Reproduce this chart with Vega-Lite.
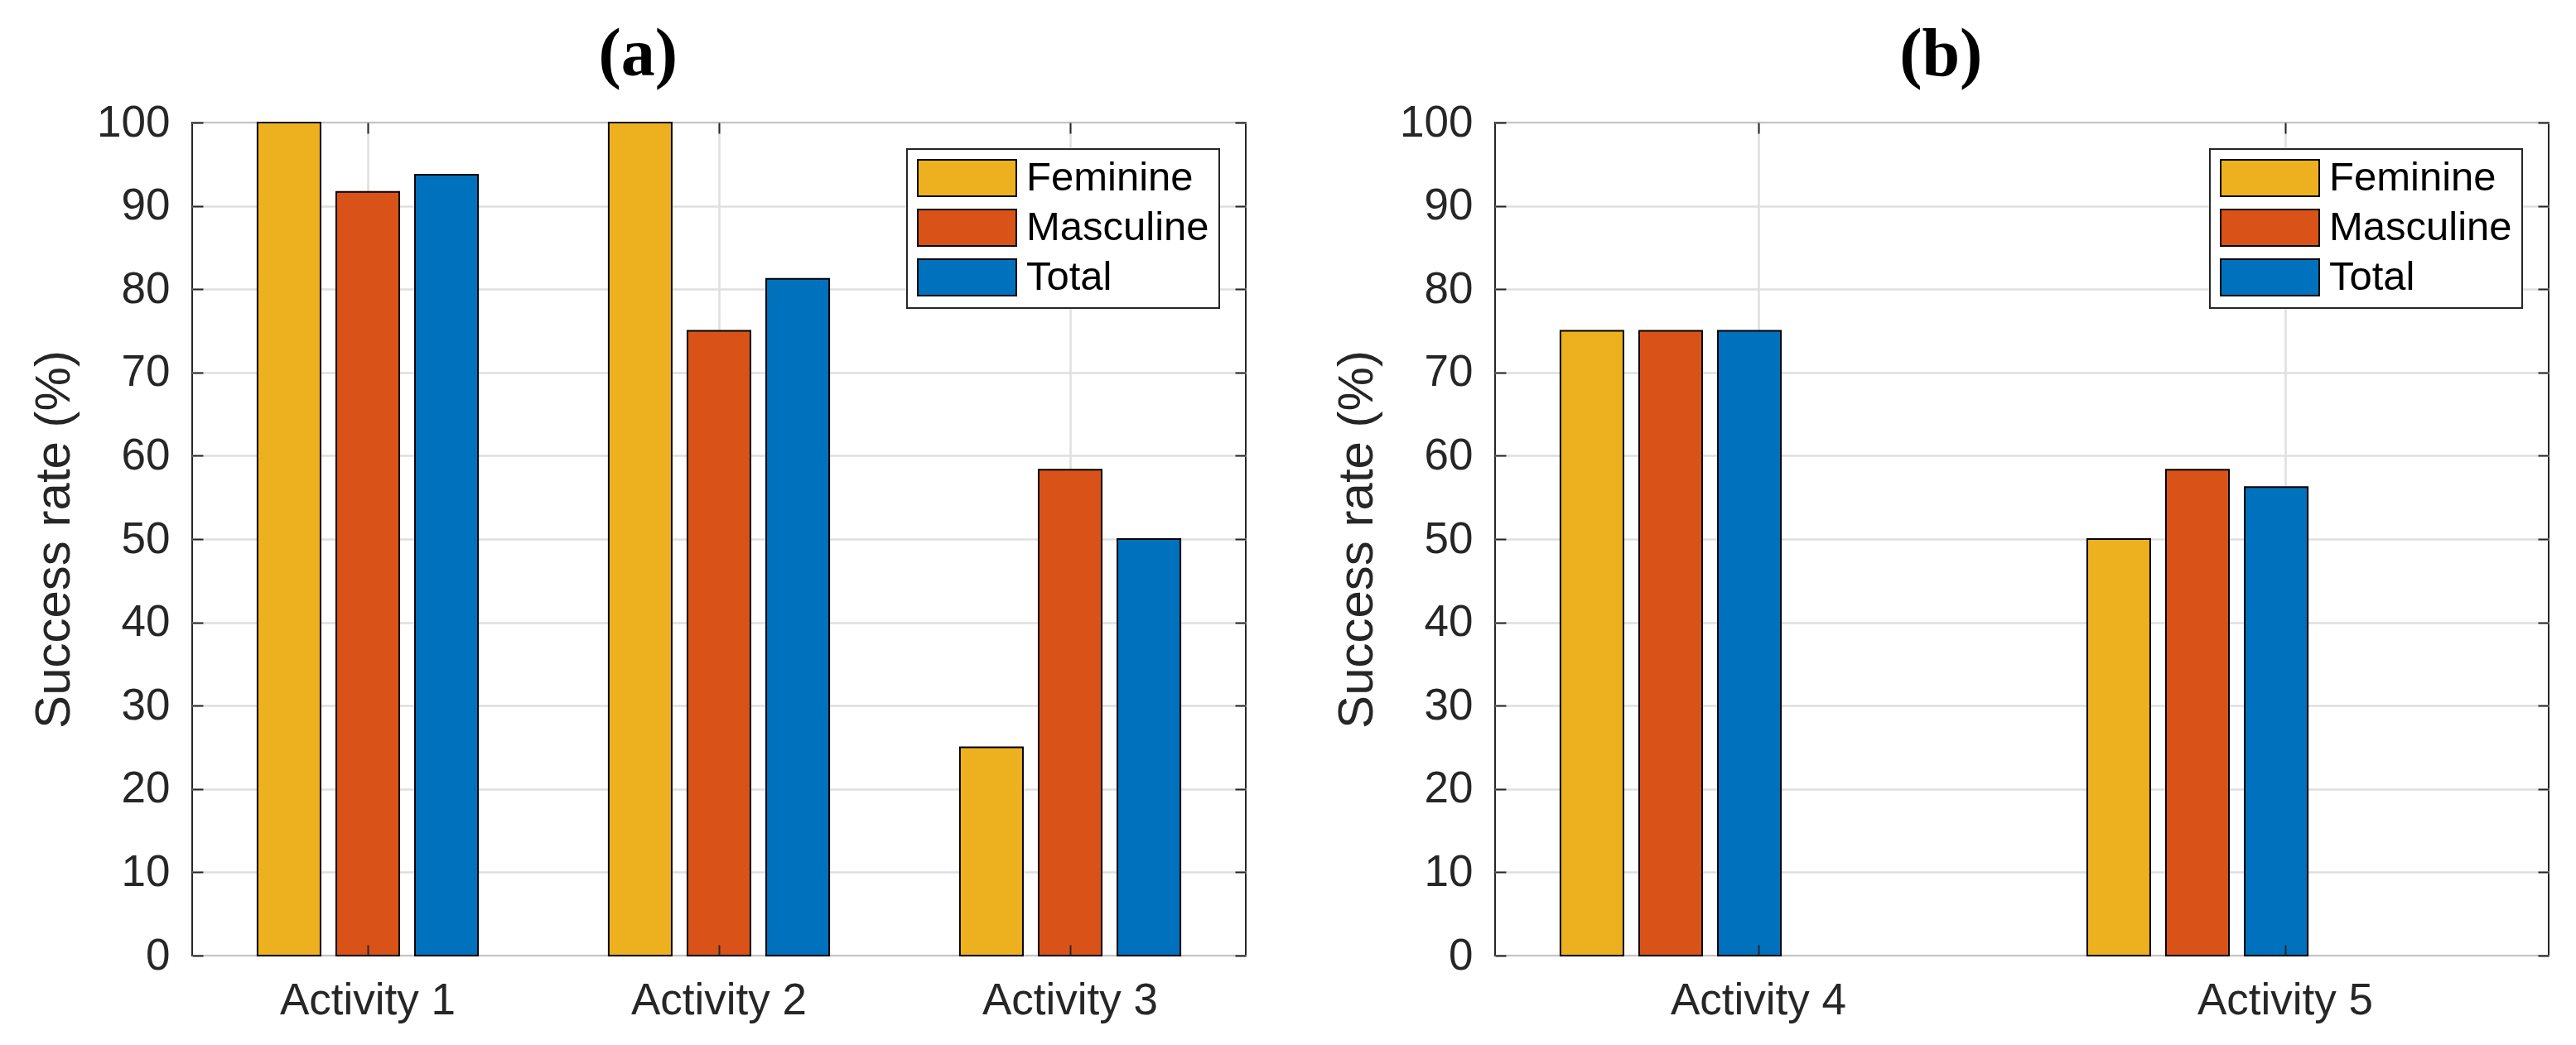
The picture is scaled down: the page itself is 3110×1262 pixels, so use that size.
{
  "$schema": "https://vega.github.io/schema/vega-lite/v6.json",
  "padding": {"left": 34, "top": 24, "right": 0, "bottom": 0},
  "background": "white",
  "datasets": {
    "panelA": [
      {"activity": "Activity 1", "group": "Feminine", "rate": 100},
      {"activity": "Activity 1", "group": "Masculine", "rate": 91.67},
      {"activity": "Activity 1", "group": "Total", "rate": 93.75},
      {"activity": "Activity 2", "group": "Feminine", "rate": 100},
      {"activity": "Activity 2", "group": "Masculine", "rate": 75},
      {"activity": "Activity 2", "group": "Total", "rate": 81.25},
      {"activity": "Activity 3", "group": "Feminine", "rate": 25},
      {"activity": "Activity 3", "group": "Masculine", "rate": 58.33},
      {"activity": "Activity 3", "group": "Total", "rate": 50}
    ],
    "panelB": [
      {"activity": "Activity 4", "group": "Feminine", "rate": 75},
      {"activity": "Activity 4", "group": "Masculine", "rate": 75},
      {"activity": "Activity 4", "group": "Total", "rate": 75},
      {"activity": "Activity 5", "group": "Feminine", "rate": 50},
      {"activity": "Activity 5", "group": "Masculine", "rate": 58.33},
      {"activity": "Activity 5", "group": "Total", "rate": 56.25}
    ]
  },
  "spacing": 101,
  "hconcat": [
    {
      "width": 1272,
      "height": 1006,
      "title": {"text": "(a)", "font": "Liberation Serif", "fontWeight": "bold", "fontSize": 82, "color": "black", "anchor": "middle", "frame": "bounds", "baseline": "alphabetic", "offset": -51},
      "data": {"name": "panelA"},
      "layer": [
        {
          "mark": {"type": "bar", "stroke": "black", "strokeWidth": 2, "opacity": 1},
          "encoding": {
            "x": {"field": "activity", "type": "nominal", "scale": {"paddingInner": 0, "paddingOuter": 0},
                  "axis": {"orient": "bottom", "title": null, "labelAngle": 0, "grid": false, "bandPosition": 0.5, "zindex": 1, "labelPadding": 41}},
            "xOffset": {"field": "group", "type": "nominal", "scale": {"paddingInner": 0.2, "paddingOuter": 0.83}},
            "y": {"field": "rate", "type": "quantitative", "scale": {"domain": [0, 100], "nice": false},
                  "axis": {"orient": "left", "title": "Success rate (%)", "values": [0, 10, 20, 30, 40, 50, 60, 70, 80, 90, 100], "grid": false, "zindex": 1, "labelPadding": 40, "titlePadding": 20}},
            "color": {"field": "group", "type": "nominal", "scale": {"domain": ["Feminine", "Masculine", "Total"], "range": ["#EDB120", "#D95319", "#0072BD"]}, "legend": {"title": null}}
          }
        },
        {
          "mark": {"type": "bar", "opacity": 0},
          "encoding": {
            "x": {"field": "activity", "type": "nominal", "scale": {"paddingInner": 0, "paddingOuter": 0},
                  "axis": {"orient": "top", "title": null, "labels": false, "grid": true, "bandPosition": 0.5, "zindex": 0}},
            "xOffset": {"field": "group", "type": "nominal", "scale": {"paddingInner": 0.2, "paddingOuter": 0.83}},
            "y": {"field": "rate", "type": "quantitative", "scale": {"domain": [0, 100], "nice": false},
                  "axis": {"orient": "right", "title": null, "labels": false, "values": [0, 10, 20, 30, 40, 50, 60, 70, 80, 90, 100], "grid": true, "zindex": 0}}
          }
        }
      ],
      "resolve": {"axis": {"x": "independent", "y": "independent"}}
    },
    {
      "width": 1272,
      "height": 1006,
      "title": {"text": "(b)", "font": "Liberation Serif", "fontWeight": "bold", "fontSize": 82, "color": "black", "anchor": "middle", "frame": "bounds", "baseline": "alphabetic", "offset": -51},
      "data": {"name": "panelB"},
      "layer": [
        {
          "mark": {"type": "bar", "stroke": "black", "strokeWidth": 2, "opacity": 1},
          "encoding": {
            "x": {"field": "activity", "type": "nominal", "scale": {"paddingInner": 0, "paddingOuter": 0},
                  "axis": {"orient": "bottom", "title": null, "labelAngle": 0, "grid": false, "bandPosition": 0.5, "zindex": 1, "labelPadding": 41}},
            "xOffset": {"field": "group", "type": "nominal", "scale": {"paddingInner": 0.2, "paddingOuter": 0.83}},
            "y": {"field": "rate", "type": "quantitative", "scale": {"domain": [0, 100], "nice": false},
                  "axis": {"orient": "left", "title": "Success rate (%)", "values": [0, 10, 20, 30, 40, 50, 60, 70, 80, 90, 100], "grid": false, "zindex": 1, "labelPadding": 40, "titlePadding": 20}},
            "color": {"field": "group", "type": "nominal", "scale": {"domain": ["Feminine", "Masculine", "Total"], "range": ["#EDB120", "#D95319", "#0072BD"]}, "legend": {"title": null}}
          }
        },
        {
          "mark": {"type": "bar", "opacity": 0},
          "encoding": {
            "x": {"field": "activity", "type": "nominal", "scale": {"paddingInner": 0, "paddingOuter": 0},
                  "axis": {"orient": "top", "title": null, "labels": false, "grid": true, "bandPosition": 0.5, "zindex": 0}},
            "xOffset": {"field": "group", "type": "nominal", "scale": {"paddingInner": 0.2, "paddingOuter": 0.83}},
            "y": {"field": "rate", "type": "quantitative", "scale": {"domain": [0, 100], "nice": false},
                  "axis": {"orient": "right", "title": null, "labels": false, "values": [0, 10, 20, 30, 40, 50, 60, 70, 80, 90, 100], "grid": true, "zindex": 0}}
          }
        }
      ],
      "resolve": {"axis": {"x": "independent", "y": "independent"}}
    }
  ],
  "resolve": {"scale": {"color": "independent"}},
  "config": {
    "view": {"stroke": "#262626", "strokeWidth": 2},
    "font": "Liberation Sans",
    "axis": {
      "labelFont": "Liberation Sans",
      "labelFontSize": 53,
      "labelLimit": 0,
      "labelColor": "#262626",
      "tickColor": "#262626",
      "tickWidth": 2,
      "tickSize": -13,
      "domain": false,
      "gridColor": "#dfdfdf",
      "gridWidth": 2.5,
      "titleFont": "Liberation Sans",
      "titleFontSize": 60,
      "titleFontWeight": "normal",
      "titleColor": "#262626"
    },
    "legend": {
      "orient": "top-right",
      "offset": 32,
      "fillColor": "white",
      "strokeColor": "#262626",
      "strokeWidth": 2,
      "padding": 12,
      "symbolType": "M-1,-0.37H1V0.37H-1Z",
      "symbolSize": 14161,
      "symbolStrokeColor": "black",
      "symbolStrokeWidth": 2,
      "symbolOpacity": 1,
      "labelFont": "Liberation Sans",
      "labelFontSize": 49,
      "labelLimit": 0,
      "labelColor": "black",
      "labelOffset": 11,
      "clipHeight": 46,
      "rowPadding": 11
    }
  }
}
